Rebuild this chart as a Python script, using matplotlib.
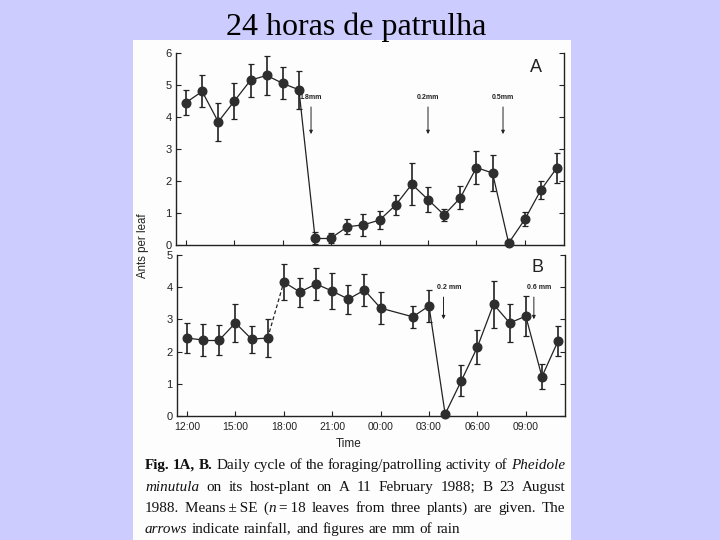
import matplotlib
matplotlib.use('Agg')
import matplotlib.pyplot as plt
from matplotlib.patches import Rectangle

BG = '#CCCCFF'; INK = '#222222'; DOT = '#2e2e2e'
SANS = ['Liberation Sans', 'DejaVu Sans']
SERIF = ['Liberation Serif', 'DejaVu Serif']

# ---- data ----
# panel A: 11 February 1988, hourly
A_hours = [12, 13, 14, 15, 16, 17, 18, 19, 20, 21, 22, 23, 0, 1, 2, 3, 4, 5, 6, 7, 8, 9, 10, 11]
A_mean = [4.45, 4.8, 3.85, 4.5, 5.15, 5.3, 5.05, 4.85, 0.22, 0.22, 0.57, 0.63,
          0.78, 1.25, 1.9, 1.42, 0.94, 1.47, 2.42, 2.25, 0.06, 0.8, 1.72, 2.42]
A_se = [0.4, 0.5, 0.6, 0.56, 0.52, 0.62, 0.5, 0.6, 0.18, 0.15, 0.23, 0.35,
        0.27, 0.32, 0.65, 0.39, 0.2, 0.36, 0.52, 0.55, 0.0, 0.22, 0.27, 0.47]
A_rain_time = [19.75, 3.0, 7.65]
A_rain_mm = ['1.8mm', '0.2mm', '0.5mm']

# panel B: 23 August 1988 (no sample at 01:00)
B_hours = [12, 13, 14, 15, 16, 17, 18, 19, 20, 21, 22, 23, 0, 2, 3, 4, 5, 6, 7, 8, 9, 10, 11]
B_mean = [2.42, 2.36, 2.36, 2.89, 2.39, 2.42, 4.16, 3.85, 4.1, 3.88, 3.63, 3.91,
          3.35, 3.08, 3.42, 0.06, 1.09, 2.14, 3.47, 2.89, 3.1, 1.22, 2.33]
B_se = [0.46, 0.51, 0.48, 0.59, 0.42, 0.6, 0.55, 0.45, 0.5, 0.57, 0.45, 0.5,
        0.5, 0.35, 0.5, 0.0, 0.48, 0.52, 0.73, 0.6, 0.62, 0.38, 0.48]
B_dashed = [5]   # segment 17:00 -> 18:00 drawn dashed
B_rain_time = [3.9, 9.5]
B_rain_mm = ['0.2 mm', '0.6 mm']

tick_hours = [12, 15, 18, 21, 0, 3, 6, 9]
tick_labels = ['%02d:00' % h for h in tick_hours]

def el(h):  # hours elapsed since 12:00
    return (h - 12) % 24

fig = plt.figure(figsize=(7.2, 5.4), dpi=100)
fig.patch.set_facecolor(BG)
fig.add_artist(Rectangle((133/720, 0), (571-133)/720, 500/540, transform=fig.transFigure,
                         facecolor='#fdfdfd', edgecolor='none', zorder=0))
fig.text(356/720, 1-35/540, '24 horas de patrulha', family=SERIF, fontsize=23,
         ha='center', va='baseline', color='black')

def panel(rect, hours, mean, se, ymax, letter, rain_t, rain_mm, arr_top, arr_bot, dashed=(), lbl_dx=0.0, xlabels=False):
    ax = fig.add_axes(rect, facecolor='none')
    x = [el(h) for h in hours]
    xe = [xi for xi, s in zip(x, se) if s > 0]
    me = [m for m, s in zip(mean, se) if s > 0]
    ee = [s for s in se if s > 0]
    ax.errorbar(xe, me, yerr=ee, fmt='none', ecolor=INK, elinewidth=1.2, capsize=2.5, capthick=0.9)
    for i in range(len(x) - 1):
        ax.plot(x[i:i+2], mean[i:i+2], color=INK, lw=0.9, ls=(0, (3, 2)) if i in dashed else '-')
    ax.plot(x, mean, 'o', color=DOT, ms=6.2, clip_on=False, zorder=3)
    for t, lab in zip(rain_t, rain_mm):
        ax.annotate('', xy=(el(t), arr_bot), xytext=(el(t), arr_top),
                    arrowprops=dict(arrowstyle='-|>', color=INK, lw=0.7, mutation_scale=5))
        ax.text(el(t) + lbl_dx, arr_top + 0.1, lab, fontsize=5, fontweight='bold', family=SANS,
                ha='center', va='bottom', color=INK)
    ax.set_xlim(-0.62, 23.43); ax.set_ylim(0, ymax)
    ax.set_yticks(range(ymax + 1))
    ax.set_xticks([el(h) for h in tick_hours])
    if xlabels:
        ax.set_xticklabels(tick_labels, family=SANS)
    else:
        ax.set_xticklabels([])
    for lab in ax.get_yticklabels():
        lab.set_family(SANS)
    ax.spines['top'].set_visible(False)
    for s in ('left', 'right', 'bottom'):
        ax.spines[s].set_linewidth(1.0); ax.spines[s].set_color(INK)
    ax.tick_params(axis='y', direction='in', left=True, right=True, length=3.5, width=0.8,
                   labelsize=8, pad=3, colors=INK)
    ax.tick_params(axis='x', direction='in', length=3.5, width=0.8, labelsize=7.5, pad=4, colors=INK)
    ax.text(0.928, 0.925, letter, transform=ax.transAxes, fontsize=13, family=SANS,
            ha='center', va='center', color=INK)
    return ax

panel([176/720, 1-245/540, 388/720, 192/540], A_hours, A_mean, A_se, 6, 'A',
      A_rain_time, A_rain_mm, 4.4, 3.38)
panel([177/720, 1-416/540, 388/720, 161/540], B_hours, B_mean, B_se, 5, 'B',
      B_rain_time, B_rain_mm, 3.78, 2.92, dashed=B_dashed, lbl_dx=0.35, xlabels=True)

fig.text(143/720, 1-246/540, 'Ants per leaf', rotation=90, fontsize=8.3, family=SANS,
         ha='center', va='center', color=INK)
fig.text(349/720, 1-444/540, 'Time', fontsize=8.5, family=SANS, ha='center', va='center', color=INK)

# ---- caption, justified like the printed page ----
cap = [
    [[('Fig.', 'b')], [('1A,', 'b')], [('B.', 'b')], [('Daily', 'r')], [('cycle', 'r')], [('of', 'r')],
     [('the', 'r')], [('foraging/patrolling', 'r')], [('activity', 'r')], [('of', 'r')], [('Pheidole', 'i')]],
    [[('minutula', 'i')], [('on', 'r')], [('its', 'r')], [('host-plant', 'r')], [('on', 'r')], [('A', 'r')],
     [('11', 'r')], [('February', 'r')], [('1988;', 'r')], [('B', 'r')], [('23', 'r')], [('August', 'r')]],
    [[('1988.', 'r')], [('Means\u2009\u00b1\u2009SE', 'r')], [('(', 'r'), ('n', 'i'), ('\u2009=\u200918', 'r')],
     [('leaves', 'r')], [('from', 'r')], [('three', 'r')], [('plants)', 'r')], [('are', 'r')],
     [('given.', 'r')], [('The', 'r')]],
    [[('arrows', 'i')], [('indicate', 'r')], [('rainfall,', 'r')], [('and', 'r')], [('figures', 'r')],
     [('are', 'r')], [('mm', 'r')], [('of', 'r')], [('rain', 'r')]],
]
cap_base = [469, 491, 512, 533]
cap_just = [True, True, True, False]
X0, X1 = 145, 565
FS = 10.9
r = fig.canvas.get_renderer()
STY = {'b': dict(fontweight='bold'), 'r': {}, 'i': dict(fontstyle='italic')}

def put(s, st, x, y):
    t = fig.text(x/720, 1-y/540, s, fontsize=FS, family=SERIF, color='#111111',
                 ha='left', va='baseline', **STY[st])
    return t.get_window_extent(r).width

for words, yb, just in zip(cap, cap_base, cap_just):
    widths = []
    for w in words:
        tot = 0
        for s, st in w:
            t = fig.text(0, 0, s, fontsize=FS, family=SERIF, **STY[st])
            tot += t.get_window_extent(r).width
            t.remove()
        widths.append(tot)
    sp = fig.text(0, 0, 'a a', fontsize=FS, family=SERIF)
    sp2 = fig.text(0, 0, 'aa', fontsize=FS, family=SERIF)
    space = sp.get_window_extent(r).width - sp2.get_window_extent(r).width
    sp.remove(); sp2.remove()
    gap = (X1 - X0 - sum(widths)) / (len(words) - 1) if just else space * 1.15
    x = X0
    for w, wd in zip(words, widths):
        xx = x
        for s, st in w:
            xx += put(s, st, xx, yb)
        x += wd + gap

fig.savefig('out.png', dpi=100, facecolor=BG)
